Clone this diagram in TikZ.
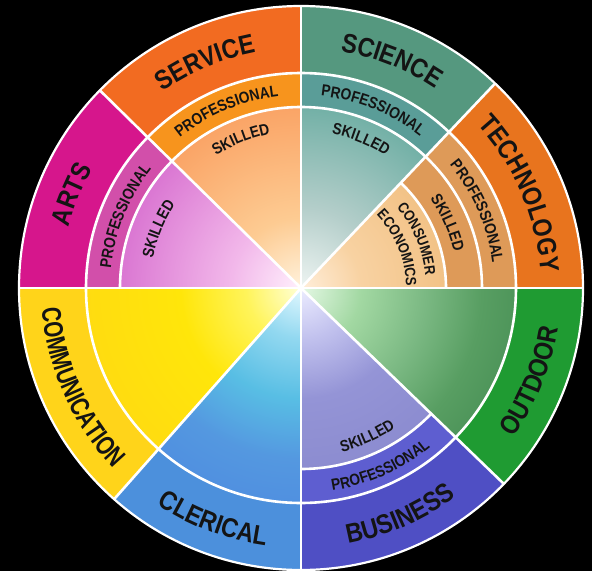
\documentclass[tikz,border=0pt]{standalone}
\usepackage{fontspec}
\setmainfont{Liberation Sans}
\newfontfamily\wfont[FakeStretch=0.86]{Liberation Sans}
\newfontfamily\wfontn[FakeStretch=0.76]{Liberation Sans}
\usetikzlibrary{decorations.text}
% ring colours
\definecolor{serO}{HTML}{F26B21}\definecolor{serP}{HTML}{F7941D}
\definecolor{sciO}{HTML}{55987F}\definecolor{sciP}{HTML}{5A9D98}
\definecolor{tecO}{HTML}{E8741E}\definecolor{tecP}{HTML}{DE9A58}
\definecolor{artO}{HTML}{D6168C}\definecolor{artP}{HTML}{D24FAA}
\definecolor{comO}{HTML}{FFD41A}
\definecolor{clrO}{HTML}{4C90DC}
\definecolor{busO}{HTML}{4F4FC4}\definecolor{busP}{HTML}{5E5ED0}
\definecolor{outO}{HTML}{1F9B32}
\definecolor{txt}{HTML}{141414}
% inner wedge colours
\definecolor{serA}{HTML}{FFF2DC}\definecolor{serB}{HTML}{FDCB92}\definecolor{serC}{HTML}{FAA466}
\definecolor{sciA}{HTML}{EEF4F2}\definecolor{sciB}{HTML}{B4CECA}\definecolor{sciC}{HTML}{72B0A6}
\definecolor{tecA}{HTML}{FFEEDA}\definecolor{tecB}{HTML}{F8D2A2}\definecolor{tecC}{HTML}{F2C286}
\definecolor{artA}{HTML}{FFF0FC}\definecolor{artB}{HTML}{F2B8EA}\definecolor{artC}{HTML}{DA76D2}
\definecolor{comA}{HTML}{FFFFD8}\definecolor{comB}{HTML}{FFF45A}\definecolor{comC}{HTML}{FFE60A}\definecolor{comD}{HTML}{FFDC10}
\definecolor{clrA}{HTML}{E2F8FF}\definecolor{clrB}{HTML}{92D8F0}\definecolor{clrC}{HTML}{58BEE4}\definecolor{clrD}{HTML}{5498E0}\definecolor{clrE}{HTML}{5090E0}
\definecolor{busA}{HTML}{ECECFF}\definecolor{busB}{HTML}{C2C2EE}\definecolor{busC}{HTML}{9494D6}\definecolor{busD}{HTML}{8C8CD0}
\definecolor{outA}{HTML}{E4F8E4}\definecolor{outB}{HTML}{A2D8A2}\definecolor{outC}{HTML}{7AB882}\definecolor{outD}{HTML}{589E62}\definecolor{outE}{HTML}{4E955A}
% shadings of the inner wedges
\pgfdeclareradialshading{serS}{\pgfpointorigin}{color(0bp)=(serA); color(70bp)=(serB); color(181bp)=(serC); color(220bp)=(serC)}
\pgfdeclareradialshading{sciS}{\pgfpointorigin}{color(0bp)=(sciA); color(80bp)=(sciB); color(181bp)=(sciC); color(220bp)=(sciC)}
\pgfdeclareradialshading{tecS}{\pgfpointorigin}{color(0bp)=(tecA); color(60bp)=(tecB); color(145bp)=(tecC); color(220bp)=(tecC)}
\pgfdeclareradialshading{artS}{\pgfpointorigin}{color(0bp)=(artA); color(70bp)=(artB); color(181bp)=(artC); color(220bp)=(artC)}
\pgfdeclareradialshading{comS}{\pgfpointorigin}{color(0bp)=(comA); color(55bp)=(comB); color(120bp)=(comC); color(215bp)=(comD); color(220bp)=(comD)}
\pgfdeclareradialshading{clrS}{\pgfpointorigin}{color(0bp)=(clrA); color(50bp)=(clrB); color(110bp)=(clrC); color(170bp)=(clrD); color(215bp)=(clrE); color(220bp)=(clrE)}
\pgfdeclareradialshading{busS}{\pgfpointorigin}{color(0bp)=(busA); color(50bp)=(busB); color(110bp)=(busC); color(181bp)=(busD); color(220bp)=(busD)}
\pgfdeclareradialshading{outS}{\pgfpointorigin}{color(0bp)=(outA); color(60bp)=(outB); color(125bp)=(outC); color(180bp)=(outD); color(215bp)=(outE); color(220bp)=(outE)}
\newcommand\outerfmt{\wfont\bfseries\fontsize{27pt}{27pt}\selectfont\color{txt}}
\newcommand\narrowfmt{\wfontn\bfseries\fontsize{27pt}{27pt}\selectfont\color{txt}}
\newcommand\innerfmt{\wfont\bfseries\fontsize{16pt}{16pt}\selectfont\color{txt}}
\newcommand\smallfmt{\wfont\bfseries\fontsize{15pt}{15pt}\selectfont\color{txt}}
% annulus sector: start, end, outer r, inner r, colour
\newcommand\annul[5]{\fill[#5] (#1:#3) arc[start angle=#1,end angle=#2,radius=#3] -- (#2:#4) arc[start angle=#2,end angle=#1,radius=#4] -- cycle;}
% shaded wedge: start, end, radius, shading
\newcommand\shwedge[4]{\begin{scope}
  \clip (0pt,0pt) -- (#1:#3) arc[start angle=#1,end angle=#2,radius=#3] -- cycle;
  \node[inner sep=0pt,outer sep=0pt] (sh#4) at (0pt,0pt) {\pgfuseshading{#4}};
\end{scope}}
% text along clockwise arc (tops outward) / counter-clockwise arc (tops inward)
\newcommand\cwtext[4]{\path[decorate,decoration={text along path,text align=center,text={|#3|#4}}] ({#1+45}:#2) arc[start angle={#1+45},end angle={#1-45},radius=#2];}
\newcommand\ccwtext[4]{\path[decorate,decoration={text along path,text align=center,text={|#3|#4}}] ({#1-45}:#2) arc[start angle={#1-45},end angle={#1+45},radius=#2];}
\tikzset{sep/.style={draw=white,line width=2.6pt}}
\begin{document}
\begin{tikzpicture}
\useasboundingbox (-301pt,-283pt) rectangle (291pt,288pt);
\fill[black] (-301pt,-283pt) rectangle (291pt,288pt);
% ---- sectors ----
% Service 90-135.5
\annul{90}{135.5}{282pt}{215pt}{serO}
\annul{90}{135.5}{215pt}{181pt}{serP}
\shwedge{90}{135.5}{181pt}{serS}
% Science 46.5-90
\annul{46.5}{90}{282pt}{215pt}{sciO}
\annul{46.5}{90}{215pt}{181pt}{sciP}
\shwedge{46.5}{90}{181pt}{sciS}
% Technology 0-46.5
\annul{0}{46.5}{282pt}{215pt}{tecO}
\annul{0}{46.5}{215pt}{145pt}{tecP}
\shwedge{0}{46.5}{145pt}{tecS}
% Arts 135.5-180
\annul{135.5}{180}{282pt}{215pt}{artO}
\annul{135.5}{180}{215pt}{181pt}{artP}
\shwedge{135.5}{180}{181pt}{artS}
% Communication 180-228.5
\annul{180}{228.5}{282pt}{215pt}{comO}
\shwedge{180}{228.5}{215pt}{comS}
% Clerical 228.5-270
\annul{228.5}{270}{282pt}{215pt}{clrO}
\shwedge{228.5}{270}{215pt}{clrS}
% Business 270-316
\annul{270}{316}{282pt}{215pt}{busO}
\annul{270}{316}{215pt}{181pt}{busP}
\shwedge{270}{316}{181pt}{busS}
% Outdoor 316-360
\annul{316}{360}{282pt}{215pt}{outO}
\shwedge{316}{360}{215pt}{outS}
% ---- white separators ----
\coordinate (O) at (0pt,0pt);
\draw[sep] (O) circle (215pt);
\draw[sep] (0:181pt) arc[start angle=0,end angle=180,radius=181pt];
\draw[sep] (270:181pt) arc[start angle=270,end angle=316,radius=181pt];
\draw[sep] (0:145pt) arc[start angle=0,end angle=46.5,radius=145pt];
\draw[sep] (180:282pt) -- (0:282pt);
\draw[sep] (90:282pt) -- (270:282pt);
\draw[sep] (O) -- (46.5:282pt);
\draw[sep] (O) -- (135.5:282pt);
\draw[sep] (O) -- (228.5:282pt);
\draw[sep] (O) -- (316:282pt);
\draw[draw=white,line width=2.2pt] (O) circle (282pt);
% ---- labels ----
\cwtext{113}{240pt}{\outerfmt}{SERVICE}
\cwtext{112.75}{193pt}{\innerfmt}{PROFESSIONAL}
\cwtext{112}{157pt}{\innerfmt}{SKILLED}
\cwtext{68.25}{240pt}{\outerfmt}{SCIENCE}
\cwtext{68}{193pt}{\innerfmt}{PROFESSIONAL}
\cwtext{68}{157pt}{\innerfmt}{SKILLED}
\cwtext{23.25}{240pt}{\outerfmt}{TECHNOLOGY}
\cwtext{23.5}{193pt}{\innerfmt}{PROFESSIONAL}
\cwtext{24}{157pt}{\innerfmt}{SKILLED}
\cwtext{23}{125pt}{\smallfmt}{CONSUMER}
\cwtext{22.5}{105pt}{\smallfmt}{ECONOMICS}
\cwtext{157.75}{240pt}{\outerfmt}{ARTS}
\cwtext{157.75}{191pt}{\innerfmt}{PROFESSIONAL}
\cwtext{157.5}{151pt}{\innerfmt}{SKILLED}
\ccwtext{204.25}{260pt}{\narrowfmt}{COMMUNICATION}
\ccwtext{249.25}{260pt}{\outerfmt}{CLERICAL}
\ccwtext{293.5}{260pt}{\outerfmt}{BUSINESS}
\ccwtext{294}{205pt}{\innerfmt}{PROFESSIONAL}
\ccwtext{294}{169pt}{\innerfmt}{SKILLED}
\ccwtext{338}{260pt}{\outerfmt}{OUTDOOR}
\end{tikzpicture}
\end{document}
